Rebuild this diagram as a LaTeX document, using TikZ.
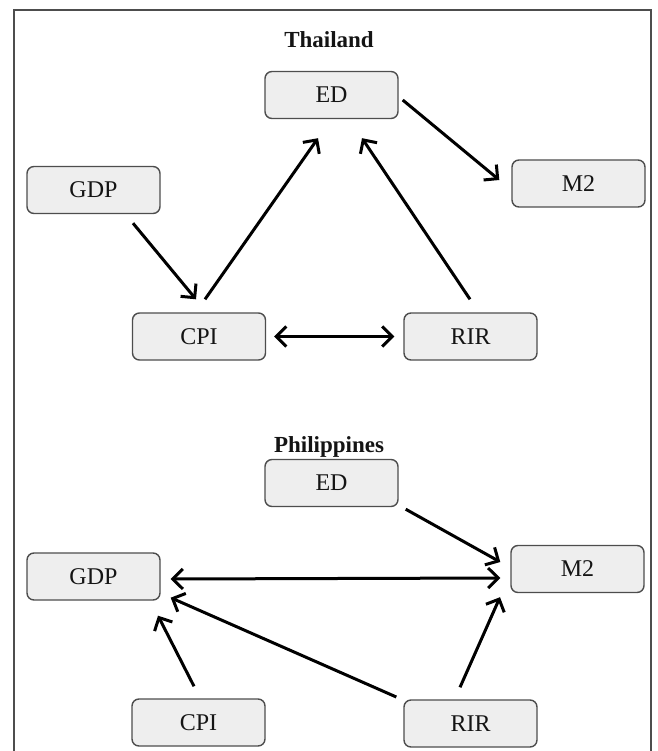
\documentclass[tikz,border=0pt]{standalone}
\usepackage{fontspec}
\setmainfont{Liberation Serif}
\usetikzlibrary{arrows.meta,calc}
\definecolor{boxfill}{HTML}{EEEEEE}
\definecolor{boxline}{HTML}{4D4D4D}
\definecolor{txt}{HTML}{141414}
\tikzset{
  var/.style={draw=boxline, line width=1.4pt, fill=boxfill, rounded corners=7pt,
    minimum width=133pt, minimum height=47pt, inner sep=0pt, text=txt,
    font=\fontsize{24}{24}\selectfont},
  ttl/.style={font=\bfseries\fontsize{23}{23}\selectfont, text=txt},
  tip/.style={Straight Barb[length=10pt,width=20pt,line width=3pt]},
  arr/.style={line width=3pt, -{Straight Barb[length=10pt,width=20pt,line width=3pt]}},
  darr/.style={line width=3pt, {Straight Barb[length=10pt,width=20pt,line width=3pt]}-{Straight Barb[length=10pt,width=20pt,line width=3pt]}},
  frame/.style={draw=boxline, line width=1.4pt}
}
\begin{document}
\begin{tikzpicture}[x=1pt,y=-1pt]
\useasboundingbox (0,0) rectangle (657,751);
\draw[frame] (14,751) -- (14,10) -- (651,10) -- (651,751);

% Thailand
\node[ttl] (t1) at (329,40) {Thailand};
\node[var] (ED) at (331.5,95) {ED};
\node[var] (GDP) at (93.5,190) {GDP};
\node[var] (M2) at (578.5,183.5) {M2};
\node[var] (CPI) at (199,336.5) {CPI};
\node[var] (RIR) at (470.5,336.5) {RIR};

\draw[arr] ($(ED.east)+(4,5)$) -- ($(M2.west)+(-12,-3.5)$);
\draw[arr] ($(GDP.south)+(39.5,9)$) -- ($(CPI.north)+(-3,-13)$);
\draw[arr] ($(CPI.north)+(6,-13)$) -- ($(ED.south)+(-13.5,19)$);
\draw[arr] ($(RIR.north)+(-0.5,-13)$) -- ($(ED.south)+(30.5,19)$);
\draw[darr] ($(CPI.east)+(8,0)$) -- ($(RIR.west)+(-9,0)$);

% Philippines
\node[ttl] (t2) at (329,447) {Philippines};
\node[var] (EDp) at (331.5,483) {ED};
\node[var] (GDPp) at (93.5,576.5) {GDP};
\node[var] (M2p) at (577.5,569) {M2};
\node[var] (CPIp) at (198.5,722.5) {CPI};
\node[var] (RIRp) at (470.5,723.5) {RIR};

\draw[arr] ($(EDp.south east)+(7,2)$) -- ($(M2p.west)+(-10,-7)$);
\draw[darr] ($(GDPp.east)+(10,2.5)$) -- ($(M2p.west)+(-10,9)$);
\draw[arr] ($(RIRp.west)+(-7,-26.5)$) -- ($(GDPp.south east)+(10,-3)$);
\draw[arr] ($(CPIp.north)+(-4.5,-12)$) -- ($(GDPp.south)+(64.5,15)$);
\draw[arr] ($(RIRp.north)+(-10.5,-12)$) -- ($(M2p.south)+(-77.5,4)$);
\end{tikzpicture}
\end{document}
